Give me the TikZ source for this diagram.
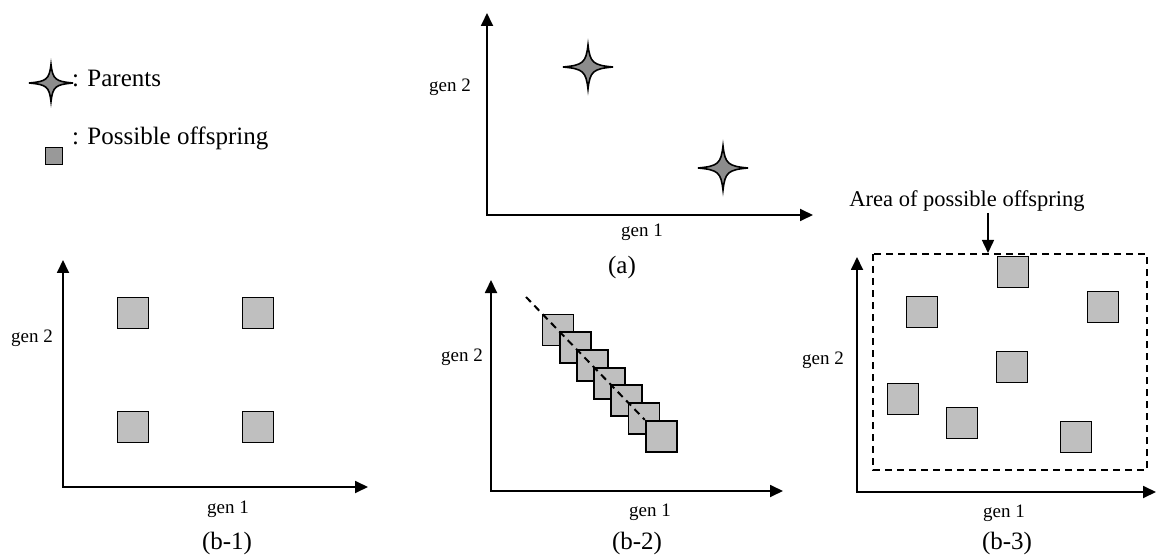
\documentclass[tikz,border=0pt]{standalone}
\usepackage{fontspec}
\setmainfont{Liberation Serif}
\usepackage{tikz}
\usetikzlibrary{arrows.meta,positioning,calc}

\definecolor{boxgray}{gray}{0.75}
\definecolor{stargray}{gray}{0.55}
\definecolor{keygray}{gray}{0.6}

\begin{document}
\begin{tikzpicture}[x=1pt, y=-1pt, >={Triangle[length=13pt,width=12pt]}]
\tikzset{
axis/.style      = {line width=1.8pt, <->},
offspring/.style = {draw, line width=1.8pt, fill=boxgray, minimum width=31pt, minimum height=31pt, inner sep=0pt},
keybox/.style    = {draw, line width=1.6pt, fill=keygray, minimum width=17pt, minimum height=17pt, inner sep=0pt},
genlabel/.style  = {inner sep=0pt, font=\fontsize{19}{23}\selectfont},
caption/.style   = {inner sep=0pt, font=\fontsize{25}{30}\selectfont},
keytext/.style   = {inner sep=0pt, anchor=base west, font=\fontsize{25}{30}\selectfont},
region/.style    = {line width=1.5pt, dash pattern=on 7pt off 5pt},
parent/.pic      = {\draw[line width=1.6pt, fill=stargray]
    (0,1) .. controls (0.08,0.2) and (0.2,0.08) .. (1,0)
    .. controls (0.2,-0.08) and (0.08,-0.2) .. (0,-1)
    .. controls (-0.08,-0.2) and (-0.2,-0.08) .. (-1,0)
    .. controls (-0.2,0.08) and (-0.08,0.2) .. (0,1) -- cycle;},
}
    \useasboundingbox (0,0) rectangle (1157,556);

    % Legend
    \pic[xscale=22, yscale=18.5] at (51,83) {parent};
    \node [keytext]  (key_parents)   at (72,87)   {: Parents};
    \node [keybox]   (key_box)       at (54,156)  {};
    \node [keytext]  (key_offspring) at (72,145)  {: Possible offspring};

    % (a) parents
    \coordinate (a_ytip) at (487,13);
    \coordinate (a_xtip) at (813,215);
    \draw [axis] (a_ytip) |- (a_xtip);
    \pic[xscale=25, yscale=22] at (588,67)  {parent};
    \pic[xscale=25, yscale=22] at (723,168) {parent};
    \node [genlabel] (a_gen2) at (450,87)  {gen 2};
    \node [genlabel] (a_gen1) at (642,232) {gen 1};
    \node [caption]  (a_cap)  at (622,267) {(a)};

    % (b-1) grid
    \coordinate (b1_ytip) at (63,260);
    \coordinate (b1_xtip) at (368,487);
    \draw [axis] (b1_ytip) |- (b1_xtip);
    \node [offspring] (b1_nw) at (133,313) {};
    \node [offspring] (b1_ne) at (258,313) {};
    \node [offspring] (b1_sw) at (133,427) {};
    \node [offspring] (b1_se) at (258,427) {};
    \node [genlabel] (b1_gen2) at (32,338)  {gen 2};
    \node [genlabel] (b1_gen1) at (228,509) {gen 1};
    \node [caption]  (b1_cap)  at (227,543) {(b-1)};

    % (b-2) line
    \coordinate (b2_ytip) at (491,280);
    \coordinate (b2_xtip) at (783,491);
    \draw [axis] (b2_ytip) |- (b2_xtip);
    \foreach \i in {0,...,6}
        \node [offspring] (b2_box\i) at ({558+17.2*\i},{330+17.7*\i}) {};
    \coordinate (b2_start) at (526,297);
    \draw [region, line width=2pt] (b2_start) -- (b2_box6.north west);
    \node [genlabel] (b2_gen2) at (462,357) {gen 2};
    \node [genlabel] (b2_gen1) at (650,512) {gen 1};
    \node [caption]  (b2_cap)  at (637,543) {(b-2)};

    % (b-3) area
    \coordinate (b3_ytip) at (857,257);
    \coordinate (b3_xtip) at (1156,492);
    \draw [axis] (b3_ytip) |- (b3_xtip);
    \coordinate (b3_nw) at (873,254);
    \coordinate (b3_se) at (1147,470);
    \draw [region] (b3_nw) rectangle (b3_se);
    \foreach \name/\x/\y in {b3_a/1013/272, b3_b/922/312, b3_c/1103/307, b3_d/1012/367,
                            b3_e/903/399, b3_f/962/423, b3_g/1076/437}
        \node [offspring] (\name) at (\x,\y) {};
    \node [inner sep=0pt, font=\fontsize{22.5}{27}\selectfont] (b3_area) at (967,201) {Area of possible offspring};
    \coordinate (b3_from) at (988,213);
    \coordinate (b3_to)   at (988,253);
    \draw [->, line width=1.5pt] (b3_from) -- (b3_to);
    \node [genlabel] (b3_gen2) at (823,360) {gen 2};
    \node [genlabel] (b3_gen1) at (1004,513) {gen 1};
    \node [caption]  (b3_cap)  at (1007,543) {(b-3)};

\end{tikzpicture}
\end{document}
